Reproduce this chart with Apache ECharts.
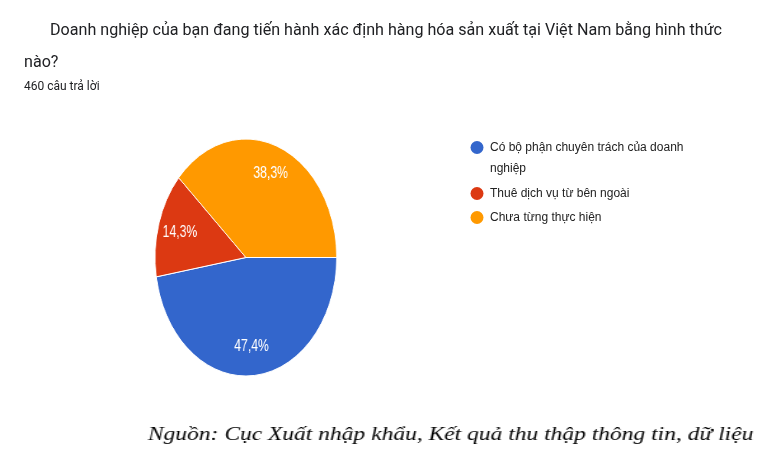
<!DOCTYPE html>
<html>
<head>
<meta charset="utf-8">
<script src="https://cdn.jsdelivr.net/npm/echarts@6/dist/echarts.min.js"></script>
<style>
html,body{margin:0;padding:0;background:#fff;overflow:hidden;}
#wrap{position:relative;width:761px;height:470px;}
#pie{position:absolute;left:0;top:0;width:993px;height:470px;transform:scaleX(0.766);transform-origin:0 0;}
#txt{position:absolute;left:0;top:0;width:761px;height:470px;}
#src{position:absolute;left:0;top:400px;width:600px;height:70px;transform:scaleX(1.27);transform-origin:0 0;}
</style>
</head>
<body>
<div id="wrap"><div id="pie"></div><div id="txt"></div><div id="src"></div></div>
<script>
const questionText = 'Doanh nghiệp của bạn đang tiến hành xác định hàng hóa sản xuất tại Việt Nam bằng hình thức\nnào?';
const responsesText = '460 câu trả lời';
const categories = ['Có bộ phận chuyên trách của doanh nghiệp', 'Thuê dịch vụ từ bên ngoài', 'Chưa từng thực hiện'];
const counts = [218, 66, 176];
const colors = ['#3366cc', '#dc3912', '#ff9900'];
const sourceText = 'Nguồn: Cục Xuất nhập khẩu, Kết quả thu thập thông tin, dữ liệu';

const pieData = categories.map((n, i) => ({ name: n, value: counts[i] }));

// Pie (drawn in a horizontally squeezed box to reproduce the elliptical pie)
const pieChart = echarts.init(document.getElementById('pie'));
pieChart.setOption({
  animation: false,
  color: colors,
  series: [
    {
      type: 'pie',
      center: [321, 257.5],
      radius: [0, 118.5],
      startAngle: 0,
      clockwise: true,
      silent: true,
      label: { show: false },
      labelLine: { show: false },
      itemStyle: { borderColor: '#fff', borderWidth: 1 },
      emphasis: { disabled: true },
      data: pieData
    },
    {
      type: 'pie',
      center: [321, 257.5],
      radius: [55, 118.5],
      startAngle: 0,
      clockwise: true,
      silent: true,
      itemStyle: { color: 'rgba(0,0,0,0)' },
      label: {
        show: true, position: 'inside', color: '#fff',
        fontFamily: 'Liberation Sans', fontSize: 16,
        formatter: p => p.percent.toFixed(1).replace('.', ',') + '%'
      },
      labelLine: { show: false },
      emphasis: { disabled: true },
      data: pieData
    }
  ]
});

// Titles and legend
const legendFont = 12;
const legendWrap = 232;
const measureCtx = document.createElement('canvas').getContext('2d');
measureCtx.font = legendFont + 'px "Liberation Sans"';

const txtChart = echarts.init(document.getElementById('txt'));
txtChart.setOption({
  animation: false,
  color: colors,
  title: [
    {
      text: '{i|}' + questionText,
      left: 24, top: 15, padding: 0,
      textStyle: { fontFamily: 'Roboto', fontSize: 16.1, fontWeight: 'normal', color: '#202124', lineHeight: 32,
        rich: { i: { width: 26, fontSize: 16.1, lineHeight: 32 } } }
    },
    {
      text: responsesText,
      left: 24, top: 81, padding: 0,
      textStyle: { fontFamily: 'Roboto', fontSize: 12, fontWeight: 'normal', color: '#202124' }
    }
  ],
  legend: {
    orient: 'vertical',
    left: 470.5, top: 116, padding: 0,
    itemWidth: 13, itemHeight: 13, itemGap: 5,
    icon: 'circle',
    selectedMode: false,
    itemStyle: { opacity: 1 },
    formatter: name => measureCtx.measureText(name).width > legendWrap ? '\n' + name : name,
    textStyle: { fontFamily: 'Liberation Sans', fontSize: legendFont, color: '#222', lineHeight: 19,
      width: legendWrap, overflow: 'break', padding: [0, 0, 0, 1.5] },
    data: categories.map(n => measureCtx.measureText(n).width > legendWrap
      ? { name: n, textStyle: { lineHeight: 21 } } : { name: n })
  },
  series: [
    {
      type: 'pie',
      radius: [0, 0],
      silent: true,
      label: { show: false },
      labelLine: { show: false },
      emphasis: { disabled: true },
      data: pieData
    }
  ]
});

// Source note
const srcChart = echarts.init(document.getElementById('src'));
srcChart.setOption({
  animation: false,
  title: {
    text: sourceText,
    left: 116.5, top: 26, padding: 0,
    textStyle: { fontFamily: 'Liberation Serif', fontStyle: 'italic', fontWeight: 'normal', fontSize: 18.5, color: '#000' }
  }
});
</script>
</body>
</html>
